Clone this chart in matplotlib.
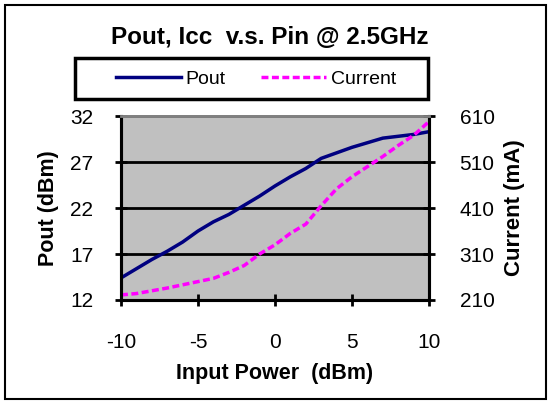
import matplotlib.pyplot as plt
from matplotlib.patches import Rectangle

plt.rcParams['font.family'] = ['Liberation Sans', 'DejaVu Sans']
plt.rcParams['axes.unicode_minus'] = False

pin = [-10, -9, -8, -7, -6, -5, -4, -3, -2, -1, 0, 1, 2, 3, 4, 5, 6, 7, 8, 9, 10]
pout = [14.4, 15.4, 16.4, 17.3, 18.3, 19.5, 20.5, 21.3, 22.3, 23.3, 24.4,
        25.4, 26.3, 27.4, 28.0, 28.6, 29.1, 29.6, 29.8, 30.0, 30.3]
current = [221, 224, 230, 236, 243, 250, 257, 270, 285, 310, 330,
           355, 375, 415, 452, 478, 500, 522, 546, 568, 598]

pout_ticks = [12, 17, 22, 27, 32]
cur_ticks = [210, 310, 410, 510, 610]
x_ticks = [-10, -5, 0, 5, 10]

fig = plt.figure(figsize=(5.5, 4.03), dpi=100)
ax = fig.add_axes([0.22, 0.2556, 0.56, 0.4564])
ax.set_facecolor('#C0C0C0')

l1, = ax.plot(pin, pout, color='#000080', lw=2.5, label='Pout')
ax.set_xlim(-10, 10)
ax.set_ylim(12, 32)
ax.set_xticks(x_ticks)
ax.set_yticks(pout_ticks)
ax.grid(axis='y', color='black', lw=2)
ax.set_axisbelow(True)

ax2 = ax.twinx()
l2, = ax2.plot(pin, current, color='#FF00FF', lw=2.5, ls=(0, (2, 1)), label='Current')
ax2.set_ylim(210, 610)
ax2.set_yticks(cur_ticks)

for a in (ax, ax2):
    a.tick_params(direction='inout', length=8, width=2, labelsize=15)
    for s in ['left', 'right', 'bottom']:
        a.spines[s].set_linewidth(2.2)
    a.spines['top'].set_color('#808080')
    a.spines['top'].set_linewidth(2)
ax.tick_params(axis='x', pad=20)
ax.tick_params(axis='y', pad=16)
ax2.tick_params(axis='y', pad=18)

ax.set_xlabel('Input Power  (dBm)', fontsize=15.5, fontweight='bold', labelpad=8)
ax.set_ylabel('Pout (dBm)', fontsize=15.5, fontweight='bold')
ax2.set_ylabel('Current (mA)', fontsize=16, fontweight='bold')
ax.yaxis.set_label_coords(-0.20, 0.5)
ax2.yaxis.set_label_coords(1.245, 0.5)

fig.text(0.49, 0.906, 'Pout, Icc  v.s. Pin @ 2.5GHz', ha='center', va='center',
         fontsize=17.5, fontweight='bold')

leg = fig.legend(handles=[l1, l2], loc='center', bbox_to_anchor=(0.4655, 0.804),
                 ncol=2, fontsize=14, frameon=False,
                 handlelength=3.35, columnspacing=1.8, handletextpad=0.25)

fig.patches.append(Rectangle((0.136, 0.754), 0.642, 0.102, transform=fig.transFigure,
                             fill=False, edgecolor='black', lw=2.5))
fig.patches.append(Rectangle((0.009, 0.01), 0.983, 0.978, transform=fig.transFigure,
                             fill=False, edgecolor='black', lw=1.5))

fig.savefig('out.png', dpi=100)
